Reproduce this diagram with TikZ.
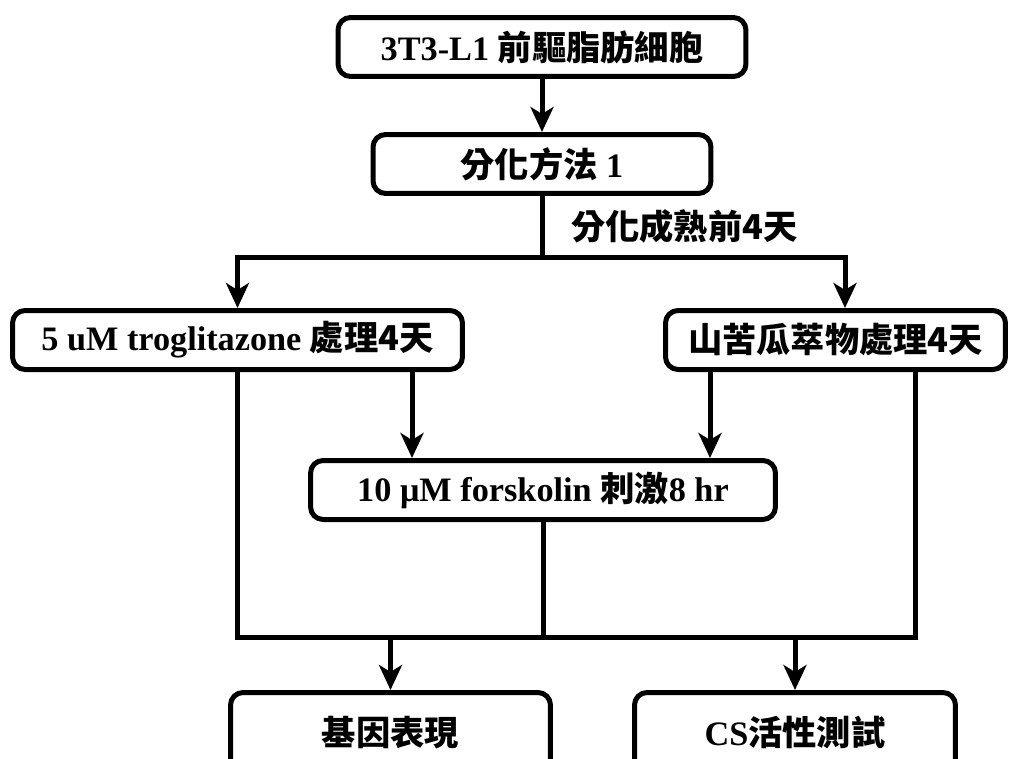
\documentclass[tikz,border=0pt]{standalone}
\usepackage{fontspec}
\setmainfont{Liberation Serif}
\newfontfamily\cjk{Noto Sans CJK TC Bold}
\usepackage{tikz}
\usetikzlibrary{positioning,calc,arrows.meta}

\begin{document}
\begin{tikzpicture}[x=0.02cm, y=-0.02cm,
    font=\fontsize{19.5}{22}\selectfont\bfseries,
    box/.style={draw, rectangle, line width=0.1cm, rounded corners=0.25cm, minimum height=1.18cm, inner sep=0pt},
    link/.style={line width=0.1cm},
    arr/.style={link, -{Stealth[length=0.5cm, width=0.46cm, inset=0.14cm]}}]
    \useasboundingbox (0,0) rectangle (1015,758);
    \clip (0,0) rectangle (1015,758);

    \node [box, minimum width=8.16cm] (cells) at (542,47) {3T3-L1 {\cjk 前驅脂肪細胞}};
    \node [box, minimum width=6.76cm] (diff) at (542,164) {{\cjk 分化方法} 1};
    \node [box, minimum width=9.0cm] (trog) at (237.5,340) {5 uM troglitazone {\cjk 處理4天}};
    \node [box, minimum width=6.8cm] (melon) at (835.5,340) {\cjk 山苦瓜萃物處理4天};
    \node [box, minimum width=9.3cm] (fsk) at (543,490) {10 μM forskolin {\cjk 刺激}8 hr};
    \node [box, minimum width=6.4cm, minimum height=1.6cm, anchor=north] (gene) at (390.5,690) {\cjk 基因表現};
    \node [box, minimum width=6.42cm, minimum height=1.6cm, anchor=north] (cs) at (795,690) {CS{\cjk 活性測試}};

    \node [anchor=west] (before) at (565,226) {\cjk 分化成熟前4天};

    \coordinate (split) at (542,257);
    \coordinate (merge) at (543,637);
    \coordinate (tapA) at (412,0);
    \coordinate (tapB) at (710,0);
    \coordinate (tapC) at (845,0);
    \coordinate (tapD) at (915,0);

    \draw [arr] (cells) -- (diff);
    \draw [link] (diff) -- (split);
    \draw [arr] (split) -| (trog);
    \draw [arr] (split) -| (melon.north -| tapC);

    \draw [arr] (trog.south -| tapA) -- (fsk.north -| tapA);
    \draw [arr] (melon.south -| tapB) -- (fsk.north -| tapB);

    \draw [link] (trog.south) |- (merge) -| (melon.south -| tapD);
    \draw [link] (fsk) -- (merge);
    \draw [arr] (merge -| gene) -- (gene);
    \draw [arr] (merge -| cs) -- (cs);
\end{tikzpicture}
\end{document}
